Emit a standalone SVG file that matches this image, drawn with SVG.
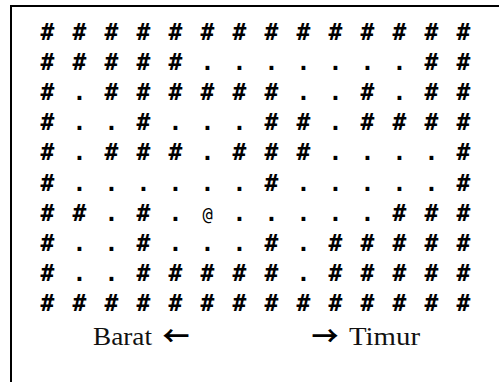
<svg xmlns="http://www.w3.org/2000/svg" width="499" height="382" viewBox="0 0 499 382">
<style>
.g{font-family:"DejaVu Sans Mono","Liberation Mono",monospace;font-weight:bold;font-size:23px;fill:#000;text-anchor:middle}
.at{font-family:"DejaVu Sans Mono",monospace;font-weight:normal;font-size:17px}
.lbl{font-family:"Liberation Serif","Times New Roman",serif;font-size:26px;fill:#111}
.arr{font-family:"Noto Sans CJK JP","DejaVu Sans",sans-serif;font-size:27px;font-weight:bold;fill:#000;text-anchor:middle}
</style>
<rect x="11" y="6" width="540" height="420" fill="none" stroke="#000" stroke-width="2"/>
<g id="grid">
<text class="g" y="40" x="47.5 79.5 111.5 143.5 175.5 207.5 239.5 271.5 303.5 335.5 367.5 399.5 431.5 463.5">##############</text>
<text class="g" y="70.1" x="47.5 79.5 111.5 143.5 175.5 207.5 239.5 271.5 303.5 335.5 367.5 399.5 431.5 463.5">#####.......##</text>
<text class="g" y="100.2" x="47.5 79.5 111.5 143.5 175.5 207.5 239.5 271.5 303.5 335.5 367.5 399.5 431.5 463.5">#.######..#.##</text>
<text class="g" y="130.3" x="47.5 79.5 111.5 143.5 175.5 207.5 239.5 271.5 303.5 335.5 367.5 399.5 431.5 463.5">#..#...##.####</text>
<text class="g" y="160.4" x="47.5 79.5 111.5 143.5 175.5 207.5 239.5 271.5 303.5 335.5 367.5 399.5 431.5 463.5">#.###.###....#</text>
<text class="g" y="190.5" x="47.5 79.5 111.5 143.5 175.5 207.5 239.5 271.5 303.5 335.5 367.5 399.5 431.5 463.5">#......#.....#</text>
<text class="g" y="220.6" x="47.5 79.5 111.5 143.5 175.5">##.#.</text>
<text class="g at" y="219.6" x="207.5">@</text>
<text class="g" y="220.6" x="239.5 271.5 303.5 335.5 367.5 399.5 431.5 463.5">.....###</text>
<text class="g" y="250.7" x="47.5 79.5 111.5 143.5 175.5 207.5 239.5 271.5 303.5 335.5 367.5 399.5 431.5 463.5">#..#...#.#####</text>
<text class="g" y="280.8" x="47.5 79.5 111.5 143.5 175.5 207.5 239.5 271.5 303.5 335.5 367.5 399.5 431.5 463.5">#..#####.#####</text>
<text class="g" y="310.9" x="47.5 79.5 111.5 143.5 175.5 207.5 239.5 271.5 303.5 335.5 367.5 399.5 431.5 463.5">##############</text>
</g>
<g id="barat">
<text class="lbl" x="93" y="345" textLength="59" lengthAdjust="spacingAndGlyphs">Barat</text>
<text class="arr" x="176" y="346">←</text>
</g>
<g id="timur">
<text class="arr" x="325" y="346">→</text>
<text class="lbl" x="349" y="345" textLength="71" lengthAdjust="spacingAndGlyphs">Timur</text>
</g>
</svg>
